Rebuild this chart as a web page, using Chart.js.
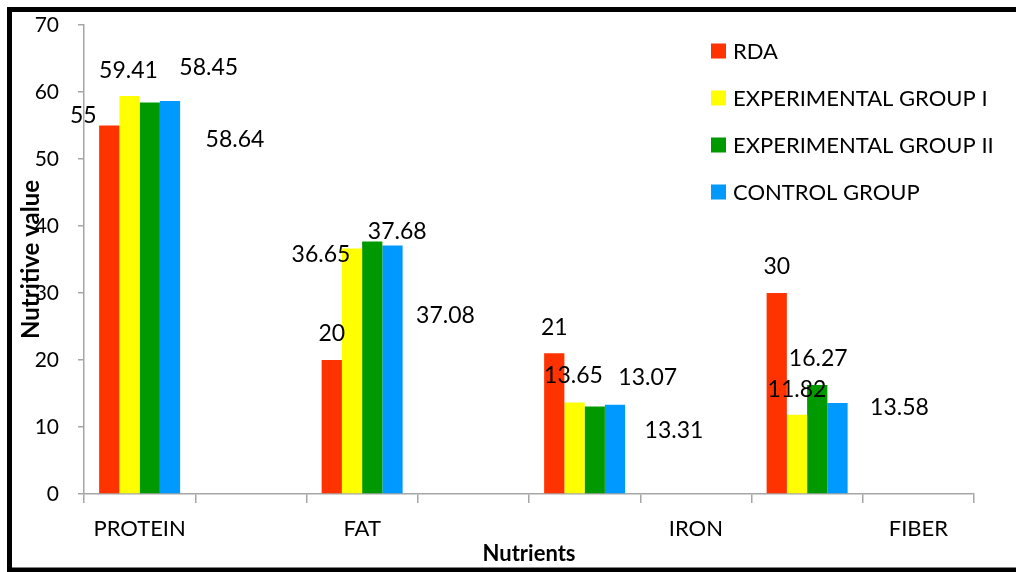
<!DOCTYPE html>
<html>
<head>
<meta charset="utf-8">
<script src="https://cdn.jsdelivr.net/npm/chart.js@4/dist/chart.umd.min.js"></script>
<style>
  html, body { margin: 0; padding: 0; background: #ffffff; }
  #wrap { width: 1016px; height: 572px; position: relative; }
</style>
</head>
<body>
<div id="wrap"><canvas id="chart"></canvas></div>
<script>
// Category slots along the x axis (labels as printed under the axis)
const slotLabels = ['PROTEIN', '', 'FAT', '', '', 'IRON', '', 'FIBER'];

// Series values per slot (null = no bar in that slot)
const rda        = [55,    null, 20,    null, 21,    null, 30,    null];
const expGroup1  = [59.41, null, 36.65, null, 13.65, null, 11.82, null];
const expGroup2  = [58.45, null, 37.68, null, 13.07, null, 16.27, null];
const control    = [58.64, null, 37.08, null, 13.31, null, 13.58, null];

const seriesNames = ['RDA', 'EXPERIMENTAL GROUP I', 'EXPERIMENTAL GROUP II', 'CONTROL GROUP'];
const yTicks = [0, 10, 20, 30, 40, 50, 60, 70];

// Styling
const colors = ['#FF3300', '#FFFF00', '#009900', '#0099FF'];
const FONT = 'Lato, "Open Sans", sans-serif';

// Value-label placement relative to each bar's top centre, in pixels [dx, dy]
const labelShift = [
  [[-26, -10], null, [0, -26], null, [0, -26], null, [0, -26], null],
  [[-1, -25],  null, [-31, 6], null, [-1, -27], null, [0, -25], null],
  [[59, -35],  null, [25, -10], null, [53, -29], null, [1, -26], null],
  [[65, 38],   null, [53, 70], null, [59, 26], null, [62, 5], null]
];

const seriesData = [rda, expGroup1, expGroup2, control];

const valueLabels = {
  id: 'valueLabels',
  afterDatasetsDraw(chart) {
    const ctx = chart.ctx;
    ctx.save();
    ctx.font = '23px ' + FONT;
    ctx.fillStyle = '#000000';
    ctx.textAlign = 'center';
    ctx.textBaseline = 'middle';
    chart.data.datasets.forEach((ds, di) => {
      const meta = chart.getDatasetMeta(di);
      meta.data.forEach((bar, i) => {
        const v = ds.data[i];
        if (v === null || v === undefined) return;
        const s = labelShift[di][i] || [0, -26];
        ctx.fillText(String(v), bar.x + s[0], bar.y + s[1]);
      });
    });
    ctx.restore();
  }
};

const sideLegend = {
  id: 'sideLegend',
  afterDraw(chart) {
    const ctx = chart.ctx;
    ctx.save();
    ctx.font = '22px ' + FONT;
    ctx.textBaseline = 'middle';
    ctx.textAlign = 'left';
    chart.data.datasets.forEach((ds, i) => {
      const cy = 51 + i * 47;
      ctx.fillStyle = ds.backgroundColor;
      ctx.fillRect(711, cy - 7.5, 15, 15);
      ctx.fillStyle = '#000000';
      ctx.fillText(ds.label, 733, cy + 1);
    });
    ctx.restore();
  }
};

const frame = {
  id: 'frame',
  afterDraw(chart) {
    const ctx = chart.ctx;
    ctx.save();
    ctx.strokeStyle = '#000000';
    ctx.lineWidth = 5;
    ctx.strokeRect(9.5, 9.5, 1020, 560.5);
    ctx.restore();
  }
};

new Chart(document.getElementById('chart'), {
  type: 'bar',
  data: {
    labels: slotLabels,
    datasets: seriesData.map((d, i) => ({
      label: seriesNames[i],
      data: d,
      backgroundColor: colors[i],
      borderWidth: 0,
      categoryPercentage: 0.728,
      barPercentage: 1.0
    }))
  },
  options: {
    responsive: true,
    maintainAspectRatio: false,
    animation: false,
    devicePixelRatio: 1,
    layout: { padding: { top: 25, right: 42, bottom: 0, left: 0 } },
    plugins: {
      legend: { display: false },
      tooltip: { enabled: false }
    },
    scales: {
      x: {
        afterFit(scale) { scale.height = 78; scale.paddingLeft = 0; scale.paddingRight = 0; },
        grid: {
          display: true,
          drawOnChartArea: false,
          drawTicks: true,
          tickLength: 9,
          color: '#A6A6A6',
          lineWidth: 1.5
        },
        border: { display: true, color: '#A6A6A6', width: 1.5 },
        ticks: {
          autoSkip: false,
          maxRotation: 0,
          color: '#000000',
          font: { family: FONT, size: 22 },
          padding: 13
        },
        title: {
          display: true,
          text: 'Nutrients',
          color: '#000000',
          font: { family: FONT, size: 22, weight: 'bold' },
          padding: { top: 0, bottom: 5 }
        }
      },
      y: {
        min: 0,
        max: 70,
        afterFit(scale) { scale.width = 84; scale.paddingTop = 0; scale.paddingBottom = 0; },
        afterBuildTicks(scale) { scale.ticks = yTicks.map(v => ({ value: v })); },
        grid: {
          display: true,
          drawOnChartArea: false,
          drawTicks: true,
          tickLength: 6,
          color: '#A6A6A6',
          lineWidth: 1.5
        },
        border: { display: true, color: '#A6A6A6', width: 1.5 },
        ticks: {
          color: '#000000',
          font: { family: FONT, size: 21 },
          padding: 19
        },
        title: {
          display: true,
          text: 'Nutritive value',
          color: '#000000',
          font: { family: FONT, size: 24, weight: 'bold' },
          padding: { top: 17, bottom: 0 }
        }
      }
    }
  },
  plugins: [valueLabels, sideLegend, frame]
});
</script>
</body>
</html>
